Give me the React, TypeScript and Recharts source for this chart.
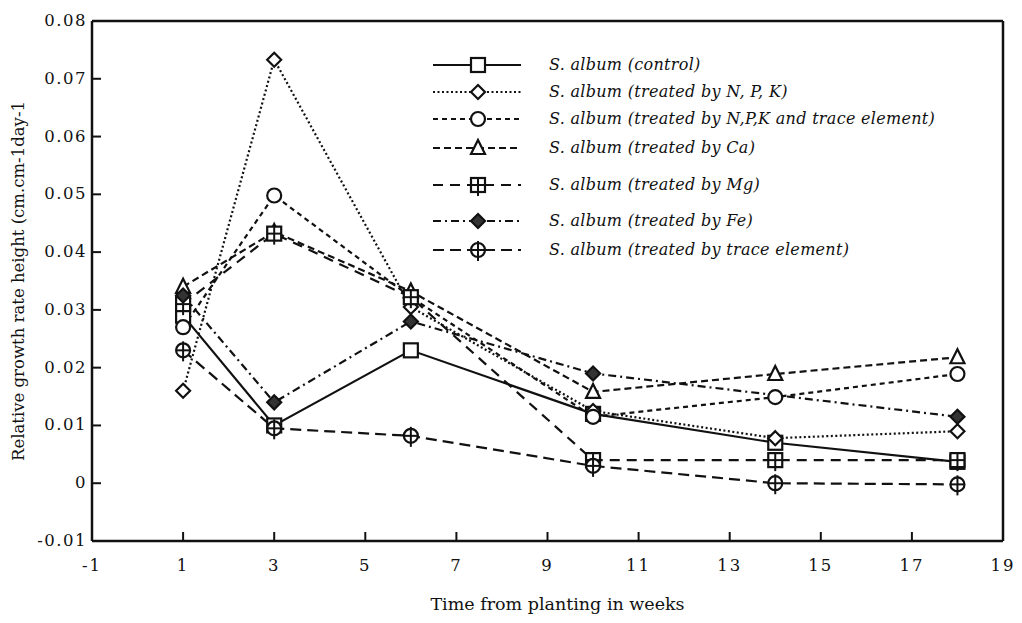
import { Legend, Line, LineChart, ReferenceLine, XAxis, YAxis } from "recharts";

// weeks after planting
const weeks = [1, 3, 6, 10, 14, 18];

// relative growth rate
const control = [0.029, 0.01, 0.023, 0.012, 0.007, 0.0037];
const npk = [0.016, 0.0733, 0.0305, 0.0125, 0.0078, 0.009];
const npkTrace = [0.027, 0.0498, 0.0322, 0.0115, 0.0149, 0.0189];
const ca = [0.034, 0.0435, 0.0332, 0.0158, 0.0189, 0.0218];
const mg = [0.031, 0.0432, 0.0322, 0.004, 0.004, 0.004];
const fe = [0.0325, 0.014, 0.028, 0.019, null, 0.0115];
const traceEl = [0.023, 0.0095, 0.0082, 0.003, 0.0, -0.0002];

const xTicks = [-1, 1, 3, 5, 7, 9, 11, 13, 15, 17, 19];
const yTicks = [-0.01, 0, 0.01, 0.02, 0.03, 0.04, 0.05, 0.06, 0.07, 0.08];

const FONT = "'DejaVu Serif', serif";
const INK = "#111";

type Shape = "square" | "diamond" | "circle" | "triangle" | "squareCross" | "diamondFilled" | "circleCross";

const series: { key: string; name: string; values: (number | null)[]; dash?: string; shape: Shape }[] = [
  { key: "control", name: "S. album (control)", values: control, shape: "square" },
  { key: "npk", name: "S. album (treated by N, P, K)", values: npk, dash: "2 2.5", shape: "diamond" },
  { key: "npkTrace", name: "S. album (treated by N,P,K and trace element)", values: npkTrace, dash: "5 4", shape: "circle" },
  { key: "ca", name: "S. album (treated by Ca)", values: ca, dash: "7 4", shape: "triangle" },
  { key: "mg", name: "S. album (treated by Mg)", values: mg, dash: "10 7", shape: "squareCross" },
  { key: "fe", name: "S. album (treated by Fe)", values: fe, dash: "8 4 2 4", shape: "diamondFilled" },
  { key: "trace", name: "S. album (treated by trace element)", values: traceEl, dash: "11 6", shape: "circleCross" },
];

const data = weeks.map((w, i) => {
  const row: Record<string, number | null> = { week: w };
  series.forEach((s) => (row[s.key] = s.values[i]));
  return row;
});

function Marker({ shape, cx, cy }: { shape: Shape; cx: number; cy: number }) {
  const s = 7;
  const common = { stroke: INK, strokeWidth: 2.2, fill: "#fff" };
  switch (shape) {
    case "square":
      return <rect x={cx - s} y={cy - s} width={2 * s} height={2 * s} {...common} />;
    case "diamond":
      return <polygon points={`${cx},${cy - s} ${cx + s},${cy} ${cx},${cy + s} ${cx - s},${cy}`} {...common} />;
    case "diamondFilled":
      return <polygon points={`${cx},${cy - s} ${cx + s},${cy} ${cx},${cy + s} ${cx - s},${cy}`} {...common} fill="#333" />;
    case "circle":
      return <circle cx={cx} cy={cy} r={s} {...common} />;
    case "triangle":
      return <polygon points={`${cx},${cy - 8} ${cx + 7},${cy + 6} ${cx - 7},${cy + 6}`} {...common} />;
    case "squareCross":
      return (
        <g>
          <rect x={cx - s} y={cy - s} width={2 * s} height={2 * s} {...common} />
          <line x1={cx} y1={cy - s} x2={cx} y2={cy + s + 4} stroke={INK} strokeWidth={2} />
          <line x1={cx - s} y1={cy} x2={cx + s} y2={cy} stroke={INK} strokeWidth={2} />
        </g>
      );
    case "circleCross":
      return (
        <g>
          <circle cx={cx} cy={cy} r={s} {...common} />
          <line x1={cx} y1={cy - s - 2} x2={cx} y2={cy + s + 4} stroke={INK} strokeWidth={2} />
          <line x1={cx - s} y1={cy} x2={cx + s} y2={cy} stroke={INK} strokeWidth={2} />
        </g>
      );
  }
}

function LeftTick({ x, y, payload }: any) {
  const v = payload.value as number;
  return (
    <g>
      <line x1={x} y1={y} x2={x + 9} y2={y} stroke={INK} strokeWidth={2} />
      <text x={x - 5} y={y} dy={5} textAnchor="end" fontFamily={FONT} fontSize={16.5} letterSpacing={1.5} fill={INK}>
        {v === 0 ? "0" : v.toFixed(2)}
      </text>
    </g>
  );
}

function RightTick({ x, y }: any) {
  return <line x1={x} y1={y} x2={x - 9} y2={y} stroke={INK} strokeWidth={2} />;
}

function BottomTick({ x, y, payload }: any) {
  return (
    <g>
      <line x1={x} y1={y} x2={x} y2={y - 9} stroke={INK} strokeWidth={2} />
      <text x={x} y={y + 30} textAnchor="middle" fontFamily={FONT} fontSize={16.5} letterSpacing={2} fill={INK}>
        {payload.value}
      </text>
    </g>
  );
}

function LegendBox() {
  const rows = [17, 44, 71, 100, 137, 173, 202];
  return (
    <svg width={560} height={225}>
      {series.map((s, i) => {
        const y = rows[i];
        return (
          <g key={s.key}>
            <line x1={8} y1={y} x2={96} y2={y} stroke={INK} strokeWidth={2.2} strokeDasharray={s.dash} />
            <Marker shape={s.shape} cx={53} cy={y} />
            <text x={124} y={y + 5} fontFamily={FONT} fontStyle="italic" fontSize={16} letterSpacing={0.3} fill={INK}>
              {s.name}
            </text>
          </g>
        );
      })}
    </svg>
  );
}

export default function App() {
  return (
    <div style={{ position: "absolute", left: 0, top: 0, background: "#fff" }}>
      <LineChart width={1022} height={623} data={data} margin={{ top: 21, right: 0, bottom: 0, left: 0 }}>
        <XAxis
          dataKey="week"
          type="number"
          domain={[-1, 19]}
          ticks={xTicks}
          height={82}
          tickSize={0}
          tickMargin={0}
          tickLine={false}
          tick={<BottomTick />}
          axisLine={{ stroke: INK, strokeWidth: 2.5 }}
          label={({ viewBox }: any) => (
            <text
              x={viewBox.x + viewBox.width / 2 + 10}
              y={viewBox.y + 69}
              textAnchor="middle"
              fontFamily={FONT}
              fontSize={17.5}
              fill={INK}
            >
              Time from planting in weeks
            </text>
          )}
        />
        <YAxis
          type="number"
          domain={[-0.01, 0.08]}
          ticks={yTicks}
          width={92}
          tickSize={0}
          tickMargin={0}
          tickLine={false}
          tick={<LeftTick />}
          axisLine={{ stroke: INK, strokeWidth: 2.5 }}
          label={({ viewBox }: any) => {
            const cx = viewBox.x + 18;
            const cy = viewBox.y + viewBox.height / 2;
            return (
              <text
                x={cx}
                y={cy}
                transform={`rotate(-90 ${cx} ${cy})`}
                textAnchor="middle"
                dominantBaseline="central"
                fontFamily={FONT}
                fontSize={16.5}
                fill={INK}
              >
                Relative growth rate height (cm.cm-1day-1
              </text>
            );
          }}
        />
        <YAxis
          yAxisId="right"
          orientation="right"
          type="number"
          domain={[-0.01, 0.08]}
          ticks={yTicks}
          width={19}
          tickSize={0}
          tickMargin={0}
          tickLine={false}
          tick={<RightTick />}
          axisLine={{ stroke: INK, strokeWidth: 2.5 }}
        />
        <ReferenceLine y={0.08} stroke={INK} strokeWidth={2.5} />
        {series.map((s) => (
          <Line
            key={s.key}
            dataKey={s.key}
            name={s.name}
            stroke={INK}
            strokeWidth={2.2}
            strokeDasharray={s.dash}
            connectNulls
            isAnimationActive={false}
            dot={(p: any) =>
              p.cy == null || p.value == null ? (
                <g key={p.index} />
              ) : (
                <Marker key={p.index} shape={s.shape} cx={p.cx} cy={p.cy} />
              )
            }
          />
        ))}
        <Legend
          layout="vertical"
          align="center"
          verticalAlign="middle"
          content={() => <LegendBox />}
          wrapperStyle={{ left: 425, top: 48, width: 560 }}
        />
      </LineChart>
    </div>
  );
}
